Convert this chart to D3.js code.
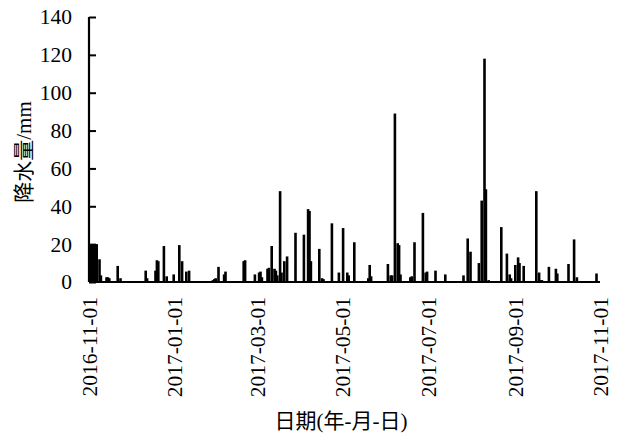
<!DOCTYPE html>
<html>
<head>
<meta charset="utf-8">
<script src="https://cdn.jsdelivr.net/npm/d3@7"></script>
<style>
  body { margin: 0; background: #fff; }
  text { font-family: "Liberation Serif", "Noto Sans CJK SC", serif; fill: #000; }
</style>
</head>
<body>
<div id="chart"></div>
<script>
// rain days only, every other day is 0 mm
const rainDates = [
    "2016-11-01", "2016-11-02", "2016-11-03", "2016-11-04", "2016-11-05", "2016-11-06",
    "2016-11-08", "2016-11-09", "2016-11-13", "2016-11-14", "2016-11-15", "2016-11-21",
    "2016-11-23", "2016-12-11", "2016-12-12", "2016-12-18", "2016-12-19", "2016-12-20",
    "2016-12-24", "2016-12-26", "2016-12-31", "2017-01-04", "2017-01-06", "2017-01-09",
    "2017-01-11", "2017-01-28", "2017-01-29", "2017-01-30", "2017-02-01", "2017-02-05",
    "2017-02-06", "2017-02-19", "2017-02-20", "2017-02-27", "2017-03-02", "2017-03-03",
    "2017-03-04", "2017-03-08", "2017-03-09", "2017-03-11", "2017-03-13", "2017-03-14",
    "2017-03-15", "2017-03-17", "2017-03-18", "2017-03-20", "2017-03-22", "2017-03-28",
    "2017-04-03", "2017-04-06", "2017-04-07", "2017-04-08", "2017-04-14", "2017-04-16",
    "2017-04-17", "2017-04-23", "2017-04-28", "2017-05-01", "2017-05-04", "2017-05-05",
    "2017-05-09", "2017-05-19", "2017-05-20", "2017-05-21", "2017-05-27", "2017-06-02",
    "2017-06-04", "2017-06-05", "2017-06-07", "2017-06-09", "2017-06-10", "2017-06-11",
    "2017-06-18", "2017-06-19", "2017-06-21", "2017-06-27", "2017-06-29", "2017-06-30",
    "2017-07-06", "2017-07-13", "2017-07-26", "2017-07-29", "2017-07-31", "2017-08-06",
    "2017-08-08", "2017-08-10", "2017-08-11", "2017-08-13", "2017-08-22", "2017-08-26",
    "2017-08-28", "2017-08-29", "2017-09-01", "2017-09-03", "2017-09-04", "2017-09-07",
    "2017-09-16", "2017-09-18", "2017-09-19", "2017-09-20", "2017-09-25", "2017-09-30",
    "2017-10-01", "2017-10-09", "2017-10-13", "2017-10-15", "2017-10-29"
];
const rainMm = [
    19.5, 20, 20, 19.5, 20, 20,
    12, 3.5, 2.5, 2.5, 2, 8.5,
    2, 6, 2, 6, 11.5, 11,
    19, 3, 4, 19.5, 11, 5.5,
    6, 1, 1.5, 2, 8, 4,
    5.5, 11, 11.5, 4, 5, 5.5,
    2.5, 7, 7.5, 19, 7, 6,
    3.5, 48, 5, 11, 13.5, 26,
    25, 38.5, 37.5, 11, 17.5, 2,
    1.5, 31, 5, 28.5, 5, 3.5,
    21, 2, 9, 3, 0.5, 9.5,
    3.5, 3.5, 89, 20.5, 19.5, 4,
    2.5, 3, 21, 36.5, 5, 5.5,
    6, 4, 3.5, 23, 16, 10,
    43, 118, 49, 1, 29, 15,
    4, 2, 9, 13, 10, 8.5,
    48, 5, 1, 1, 8, 7,
    4.5, 9.5, 22.5, 2.5, 4.5
];
const xTickLabels = ["2016-11-01", "2017-01-01", "2017-03-01", "2017-05-01", "2017-07-01", "2017-09-01", "2017-11-01"];
const yTicks = [0, 20, 40, 60, 80, 100, 120, 140];

const parse = d3.timeParse("%Y-%m-%d");
const data = rainDates.map((d, i) => ({date: parse(d), mm: rainMm[i]}));

const W = 618, H = 435;
const margin = {top: 17, right: 18, bottom: 153, left: 89};
const width = W - margin.left - margin.right;
const height = H - margin.top - margin.bottom;
const fs = "21.5px";

const svg = d3.select("#chart").append("svg")
    .attr("width", W)
    .attr("height", H);

const g = svg.append("g")
    .attr("transform", `translate(${margin.left},${margin.top})`);

const x = d3.scaleTime()
    .domain([parse("2016-11-01"), parse("2017-11-01")])
    .range([0, width]);

const y = d3.scaleLinear()
    .domain([0, 140])
    .range([height, 0]);

const barW = 2.6;

g.selectAll(".bar")
    .data(data)
    .enter().append("rect")
    .attr("class", "bar")
    .attr("x", d => x(d.date) + 0.7 - barW / 2)
    .attr("width", barW)
    .attr("y", d => y(d.mm))
    .attr("height", d => height - y(d.mm))
    .attr("fill", "#000");

// y axis, ticks pointing inward
const yAxis = g.append("g")
    .call(d3.axisLeft(y).tickValues(yTicks).tickSize(-7).tickPadding(17));
yAxis.select(".domain").attr("stroke", "#000").attr("stroke-width", 2.2).attr("d", `M0,0V${height}`);
yAxis.selectAll(".tick line").attr("stroke", "#000").attr("stroke-width", 2);
yAxis.selectAll("text").style("font-size", fs);

// x axis
const xAxis = g.append("g")
    .attr("transform", `translate(0,${height})`)
    .call(d3.axisBottom(x).tickValues(xTickLabels.map(parse)).tickSize(0).tickFormat(d3.timeFormat("%Y-%m-%d")));
xAxis.select(".domain").attr("stroke", "#000").attr("stroke-width", 2.2).attr("d", `M0,0H${width}`);
xAxis.selectAll("text")
    .style("font-size", fs)
    .attr("text-anchor", "end")
    .attr("transform", "rotate(-90)")
    .attr("x", -15)
    .attr("y", 0)
    .attr("dy", "0.35em");

svg.append("text")
    .attr("x", 341)
    .attr("y", 428)
    .attr("text-anchor", "middle")
    .style("font-size", "21px")
    .text("日期(年-月-日)");

svg.append("text")
    .attr("transform", "translate(24,152) rotate(-90)")
    .attr("text-anchor", "middle")
    .attr("dy", "0.35em")
    .style("font-size", "21px")
    .text("降水量/mm");
</script>
</body>
</html>
